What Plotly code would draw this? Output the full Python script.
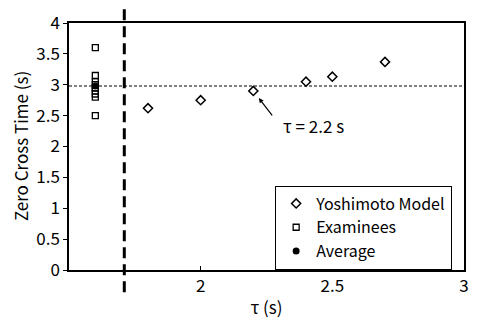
import plotly.graph_objects as go

# Data
model_tau = [1.8, 2.0, 2.2, 2.4, 2.5, 2.7]
model_zct = [2.62, 2.75, 2.90, 3.05, 3.13, 3.37]

exam_x_pos = 1.6
exam_zct = [3.6, 3.15, 3.05, 3.0, 2.95, 2.9, 2.85, 2.8, 2.5]
avg_zct = [2.98]

sep_tau = 1.71
ref_line = 2.98

x_ticks = [2, 2.5, 3]
x_tick_labels = ["2", "2.5", "3"]
y_ticks = [0, 0.5, 1, 1.5, 2, 2.5, 3, 3.5, 4]
y_tick_labels = ["0", "0.5", "1", "1.5", "2", "2.5", "3", "3.5", "4"]

FONT = "Noto Sans CJK JP, Liberation Sans, sans-serif"

fig = go.Figure()
fig.add_trace(go.Scatter(
    x=model_tau, y=model_zct, mode="markers", name="Yoshimoto Model",
    marker=dict(symbol="diamond-open", size=7, color="black", line=dict(width=1.5))))
fig.add_trace(go.Scatter(
    x=[exam_x_pos] * len(exam_zct), y=exam_zct, mode="markers", name="Examinees",
    marker=dict(symbol="square-open", size=6, color="black", line=dict(width=1.3))))
fig.add_trace(go.Scatter(
    x=[exam_x_pos], y=avg_zct, mode="markers", name="Average",
    marker=dict(symbol="circle", size=7, color="black")))

# horizontal dotted reference line
fig.add_shape(type="line", xref="x", yref="y", x0=1.5, x1=3, y0=ref_line, y1=ref_line,
              line=dict(color="black", width=1.2, dash="3px,2px"))
# vertical dashed separator (extends outside plot)
fig.add_shape(type="line", xref="x", yref="paper", x0=sep_tau, x1=sep_tau, y0=-0.09, y1=1.065,
              line=dict(color="black", width=3, dash="11px,6px"))

fig.add_annotation(x=2.2, y=2.9, xref="x", yref="y", ax=20, ay=26,
                   text="", showarrow=True, arrowhead=2, arrowsize=0.8, arrowwidth=1.2,
                   arrowcolor="black", standoff=9)
fig.add_annotation(x=2.43, y=2.34, xref="x", yref="y", text="τ = 2.2 s", showarrow=False,
                   font=dict(size=17, color="black", family=FONT), xanchor="center")

# y-axis title as rotated annotation
fig.add_annotation(xref="paper", yref="paper", x=-0.1225, y=0.5, text="Zero Cross Time (s)",
                   textangle=-90, showarrow=False, xanchor="center", yanchor="middle",
                   font=dict(size=17, color="black", family=FONT))

fig.update_layout(
    width=478, height=324,
    margin=dict(l=69, r=9, t=16, b=51),
    plot_bgcolor="white", paper_bgcolor="white",
    font=dict(family=FONT, size=17, color="black"),
    showlegend=True,
    legend=dict(x=0.97, y=0.342, xanchor="right", yanchor="top",
                bordercolor="black", borderwidth=1, bgcolor="white",
                font=dict(size=16), tracegroupgap=0, itemsizing="trace", itemwidth=30),
    xaxis=dict(range=[1.5, 3], tickvals=x_ticks, ticktext=x_tick_labels,
               showline=True, linecolor="black", linewidth=1.5, mirror=True,
               ticks="inside", ticklen=4, tickcolor="black", showgrid=False, zeroline=False,
               title=dict(text="τ (s)", font=dict(size=17), standoff=6)),
    yaxis=dict(range=[0, 4], tickvals=y_ticks, ticktext=y_tick_labels,
               showline=True, linecolor="black", linewidth=1.5, mirror=True,
               ticks="outside", ticklen=4, tickcolor="black", showgrid=False, zeroline=False),
)

fig.write_html("out.html")
